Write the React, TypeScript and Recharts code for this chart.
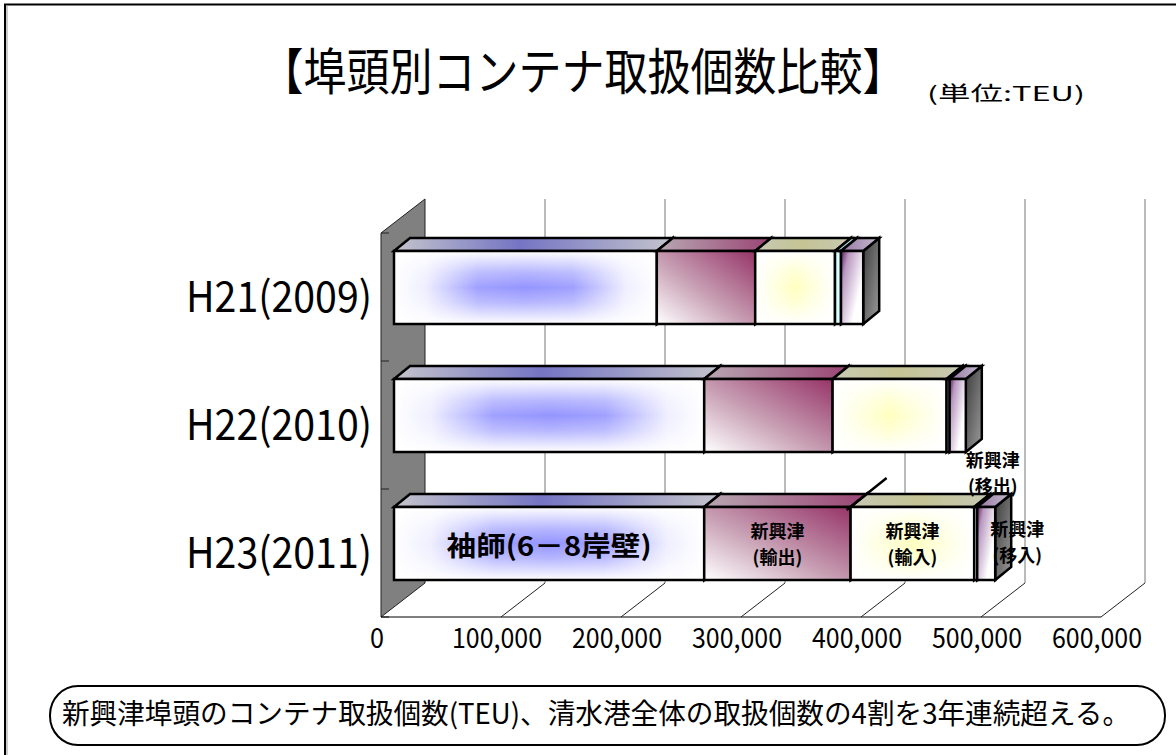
import { BarChart, Bar, XAxis, YAxis, CartesianGrid, LabelList } from 'recharts';

const categories = ['H21(2009)', 'H22(2010)', 'H23(2011)'];
const sodeshi = [219000, 258500, 258500];
const okitsuExport = [82000, 107000, 122000];
const okitsuImport = [66500, 95000, 103000];
const okitsuOut = [5000, 2500, 2500];
const okitsuIn = [18500, 13500, 15000];
const xTicks = [0, 100000, 200000, 300000, 400000, 500000, 600000];
// labels are only written inside the H23 bar
const labelRow = 'H23(2011)';
const seriesLabels = [
  ['袖師(6－8岸壁)'],
  ['新興津', '(輸出)'],
  ['新興津', '(輸入)'],
  ['新興津', '(移出)'],
  ['新興津', '(移入)'],
];

const JP = "'Noto Sans CJK JP', 'Noto Sans', sans-serif";

// 3D offsets: front face shift, bar depth, wall depth
const FX = 13;
const FY = 10;
const DX = 16;
const DY = 13;
const WX = 44;
const WY = 34;

const data = categories.map((name, i) => {
  const hit = name === labelRow;
  return {
    name,
    s0: sodeshi[i],
    s1: okitsuExport[i],
    s2: okitsuImport[i],
    s3: okitsuOut[i],
    s4: okitsuIn[i],
    l0: hit ? 'l' : '',
    l1: hit ? 'l' : '',
    l2: hit ? 'l' : '',
    l3: hit ? 'l' : '',
    l4: hit ? 'l' : '',
  };
});

const EDGE = { stroke: '#000', strokeWidth: 2.5, strokeLinejoin: 'miter' as const };

function makeShape(si: number) {
  return (props: any) => {
    const { x, y, width, height } = props;
    if (width == null || height == null || width <= 0) return <g />;
    const fx = x + FX;
    const fy = y - FY;
    const r = fx + width;
    const top = `${fx},${fy} ${fx + DX},${fy - DY} ${r + DX},${fy - DY} ${r},${fy}`;
    const side = `${r},${fy} ${r + DX},${fy - DY} ${r + DX},${fy + height - DY} ${r},${fy + height}`;
    return (
      <g>
        <polygon points={side} fill="url(#sideFace)" {...EDGE} />
        <polygon points={top} fill={`url(#top${si})`} {...EDGE} />
        <rect x={fx} y={fy} width={width} height={height} fill={`url(#front${si})`} />
        {(si === 0 || si === 2) && (
          <rect x={fx} y={fy} width={width} height={height} fill="url(#vfade)" />
        )}
        <rect x={fx} y={fy} width={width} height={height} fill="none" {...EDGE} />
      </g>
    );
  };
}

function makeLabel(si: number) {
  return (p: any) => {
    if (!p.value) return null;
    const vb = p.viewBox && p.viewBox.width != null ? p.viewBox : p;
    const { x, y, width, height } = vb;
    const fx = x + FX;
    const fy = y - FY;
    const cx = fx + width / 2;
    const cy = fy + height / 2;
    const lines = seriesLabels[si];
    if (si === 0) {
      return (
        <text x={cx} y={cy + 12} textAnchor="middle" fontFamily={JP} fontSize={27} fontWeight="bold"
          textLength={205} lengthAdjust="spacingAndGlyphs" fill="#000">
          {lines[0]}
        </text>
      );
    }
    let lx = cx;
    let ly = cy - 6;
    if (si === 3) {
      lx = cx + 17;
      ly = fy - 40;
    } else if (si === 4) {
      lx = cx + 31;
      ly = cy - 8;
    }
    return (
      <g>
        {si === 1 && (
          <line x1={fx + width - 4} y1={fy + 3} x2={fx + width + 36} y2={fy - 29} stroke="#000" strokeWidth={2.5} />
        )}
        <text x={lx} y={ly} textAnchor="middle" fontFamily={JP} fontSize={18} fontWeight="bold" fill="#000">
          <tspan x={lx} y={ly}>{lines[0]}</tspan>
          <tspan x={lx} y={ly + 26}>{lines[1]}</tspan>
        </text>
      </g>
    );
  };
}

const gridLine = (props: any) => {
  const { x1, y1, y2, index } = props;
  if (index === 0) {
    const band = (y2 - y1) / 3;
    return (
      <g key={`v${index}`}>
        <polygon
          points={`${x1},${y1} ${x1 + WX},${y1 - WY} ${x1 + WX},${y2 - WY} ${x1},${y2}`}
          fill="#808080"
          stroke="#222"
          strokeWidth={1}
        />
        {[0, 1, 2, 3].map((k) => (
          <line key={k} x1={x1} y1={y1 + band * k} x2={x1 + 8} y2={y1 + band * k} stroke="#222" strokeWidth={1} />
        ))}
      </g>
    );
  }
  return (
    <line key={`v${index}`} x1={x1 + WX} y1={y1 - WY} x2={x1 + WX} y2={y2 - WY} stroke="#777" strokeWidth={1} />
  );
};

const XTick = (props: any) => {
  const { x, y, payload } = props;
  const v = payload.value as number;
  const label = v.toLocaleString('en-US');
  return (
    <g>
      {v !== 0 && <line x1={x} y1={y} x2={x + WX} y2={y - WY} stroke="#222" strokeWidth={1} />}
      <text x={x - 4} y={y + 31} textAnchor="middle" fontFamily={JP} fontSize={28} fill="#000"
        textLength={v === 0 ? 14 : 90} lengthAdjust="spacingAndGlyphs">
        {label}
      </text>
    </g>
  );
};

const YTick = (props: any) => {
  const { x, y, payload } = props;
  return (
    <text x={x - 9} y={y + 15} textAnchor="end" fontFamily={JP} fontSize={42} fill="#000"
      textLength={186} lengthAdjust="spacingAndGlyphs">
      {payload.value}
    </text>
  );
};

export default function App() {
  return (
    <div style={{ position: 'absolute', left: 0, top: 0, width: 1176, height: 755, overflow: 'hidden', background: '#fff' }}>
      <svg width={1176} height={755} style={{ position: 'absolute', left: 0, top: 0 }}>
        <line x1={4} y1={4.5} x2={1176} y2={4.5} stroke="#000" strokeWidth={2} />
        <line x1={5} y1={4} x2={5} y2={755} stroke="#000" strokeWidth={2} />
        <line x1={7} y1={5} x2={7} y2={755} stroke="#999" strokeWidth={1} />
        <text transform="translate(583,90) scale(1,1.15)" x={0} y={0} textAnchor="middle" fontFamily={JP}
          fontSize={43} fill="#000">
          【埠頭別コンテナ取扱個数比較】
        </text>
        <text x={927} y={101} fontFamily={JP} fontSize={20} fill="#000"
          textLength={158} lengthAdjust="spacingAndGlyphs">
          (単位:TEU)
        </text>
        <rect x={50} y={686} width={1115} height={59} rx={28} ry={29} fill="#fff" stroke="#000" strokeWidth={2} />
        <text x={62} y={724} fontFamily={JP} fontSize={28} fill="#000"
          textLength={1068} lengthAdjust="spacingAndGlyphs">
          新興津埠頭のコンテナ取扱個数(TEU)、清水港全体の取扱個数の4割を3年連続超える。
        </text>
      </svg>
      <div style={{ position: 'absolute', left: 0, top: 0 }}>
        <BarChart
          width={1176}
          height={755}
          data={data}
          layout="vertical"
          margin={{ top: 233, right: 75, bottom: 98, left: 0 }}
        >
          <defs>
            <linearGradient id="front0" x1="0" y1="0" x2="1" y2="0">
              <stop offset="0" stopColor="#ffffff" />
              <stop offset="0.12" stopColor="#eeeeff" />
              <stop offset="0.32" stopColor="#a0a0ff" />
              <stop offset="0.5" stopColor="#9595ff" />
              <stop offset="0.68" stopColor="#a0a0ff" />
              <stop offset="0.88" stopColor="#eeeeff" />
              <stop offset="1" stopColor="#ffffff" />
            </linearGradient>
            <linearGradient id="vfade" x1="0" y1="0" x2="0" y2="1">
              <stop offset="0" stopColor="#fff" stopOpacity={1} />
              <stop offset="0.3" stopColor="#fff" stopOpacity={0.3} />
              <stop offset="0.5" stopColor="#fff" stopOpacity={0} />
              <stop offset="0.7" stopColor="#fff" stopOpacity={0.3} />
              <stop offset="1" stopColor="#fff" stopOpacity={1} />
            </linearGradient>
            <linearGradient id="top0" x1="0" y1="0" x2="1" y2="0">
              <stop offset="0" stopColor="#c4c4cc" />
              <stop offset="0.45" stopColor="#7474c4" />
              <stop offset="1" stopColor="#c4c4cc" />
            </linearGradient>
            <linearGradient id="front1" x1="0" y1="1" x2="1" y2="0">
              <stop offset="0" stopColor="#ffffff" />
              <stop offset="0.45" stopColor="#c8a0b4" />
              <stop offset="1" stopColor="#963468" />
            </linearGradient>
            <linearGradient id="top1" x1="0" y1="0" x2="1" y2="0">
              <stop offset="0" stopColor="#b8a8b2" />
              <stop offset="1" stopColor="#9a4474" />
            </linearGradient>
            <linearGradient id="front2" x1="0" y1="0" x2="1" y2="0">
              <stop offset="0" stopColor="#ffffff" />
              <stop offset="0.5" stopColor="#ffffc0" />
              <stop offset="1" stopColor="#ffffff" />
            </linearGradient>
            <linearGradient id="top2" x1="0" y1="0" x2="1" y2="0">
              <stop offset="0" stopColor="#c8c8b4" />
              <stop offset="0.5" stopColor="#c4c494" />
              <stop offset="1" stopColor="#c8c8b4" />
            </linearGradient>
            <linearGradient id="front3" x1="0" y1="0" x2="1" y2="0">
              <stop offset="0" stopColor="#ccffff" />
              <stop offset="1" stopColor="#e8ffff" />
            </linearGradient>
            <linearGradient id="top3" x1="0" y1="0" x2="1" y2="0">
              <stop offset="0" stopColor="#9cd4dc" />
              <stop offset="1" stopColor="#b8e4e8" />
            </linearGradient>
            <linearGradient id="front4" x1="0" y1="0" x2="0.8" y2="0.6">
              <stop offset="0" stopColor="#5a1a5a" />
              <stop offset="0.3" stopColor="#b898c0" />
              <stop offset="1" stopColor="#ffffff" />
            </linearGradient>
            <linearGradient id="top4" x1="0" y1="0" x2="1" y2="0">
              <stop offset="0" stopColor="#9878a8" />
              <stop offset="1" stopColor="#c4bccc" />
            </linearGradient>
            <linearGradient id="sideFace" x1="0" y1="0" x2="1" y2="1">
              <stop offset="0" stopColor="#3c3c3c" />
              <stop offset="1" stopColor="#9c9c9c" />
            </linearGradient>
          </defs>
          <CartesianGrid horizontal={false} vertical={gridLine} />
          <XAxis
            type="number"
            domain={[0, 600000]}
            ticks={xTicks}
            interval={0}
            height={40}
            tickSize={0}
            tickMargin={0}
            tickLine={false}
            axisLine={{ stroke: '#000', strokeWidth: 1 }}
            tick={<XTick />}
          />
          <YAxis
            type="category"
            dataKey="name"
            width={381}
            tickSize={0}
            tickMargin={0}
            axisLine={false}
            tickLine={false}
            tick={<YTick />}
          />
          {[0, 1, 2, 3, 4].map((si) => (
            <Bar
              key={si}
              dataKey={`s${si}`}
              stackId="a"
              barSize={73}
              isAnimationActive={false}
              shape={makeShape(si)}
            >
              <LabelList dataKey={`l${si}`} content={makeLabel(si)} />
            </Bar>
          ))}
        </BarChart>
      </div>
    </div>
  );
}
